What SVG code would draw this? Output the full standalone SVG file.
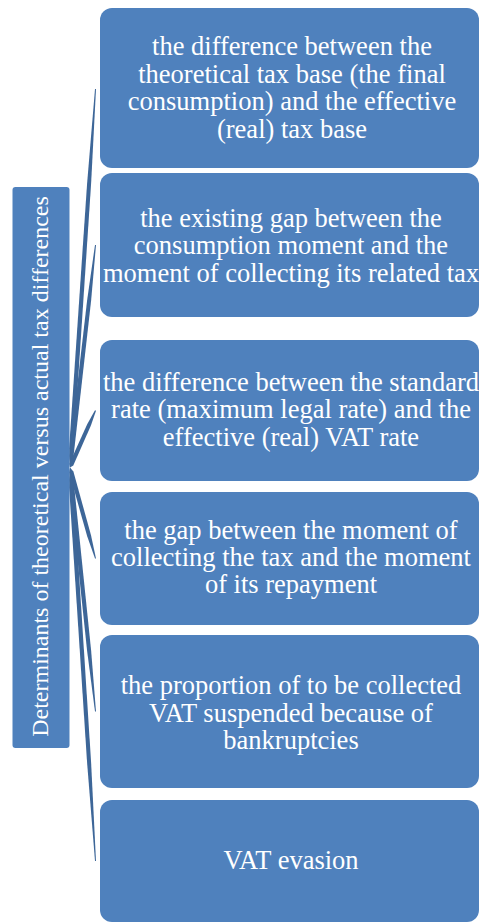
<svg xmlns="http://www.w3.org/2000/svg" width="479" height="923" viewBox="0 0 479 923">
<style>
.box{fill:#4F81BD;}
.t{font-family:'Liberation Serif','Times New Roman',serif;font-size:26.5px;fill:#FFFFFF;text-anchor:middle;}
.r{font-size:24px;}
.conn{fill:#3D6698;}
</style>
<rect width="479" height="923" fill="#FFFFFF"/>
<g id="connectors">
<polygon class="conn" points="70,467.5 73.5,448.7 91.1,183.7 96,89 95,89 87.1,183.5 69.1,448.5"/>
<polygon class="conn" points="70,467.5 73.5,456.6 91.1,300.8 96,245.1 95,244.9 87.1,300.4 69.1,456.1"/>
<polygon class="conn" points="70,467.5 73.3,465.5 90.9,425.6 96,410.7 95,410.3 87.3,423.9 69.3,463.8"/>
<polygon class="conn" points="70,467.5 73.4,471.5 91,535.2 96,558.4 95,558.6 87.2,536.3 69.2,472.6"/>
<polygon class="conn" points="70,467.5 73.5,479.5 91.1,650.3 96,711.45 95,711.55 87.1,650.7 69.1,479.9"/>
<polygon class="conn" points="70,467.5 73.5,487.1 91.1,762.5 96,861 95,861 87.1,762.7 69.1,487.3"/>
</g>
<g id="root">
<rect class="box" x="12.5" y="187" width="57" height="561" rx="3"/>
<text class="t r" transform="translate(48,466.5) rotate(-90)" x="0" y="0">Determinants of theoretical versus actual tax differences</text>
</g>
<g id="n1">
<rect class="box" x="100" y="8" width="379" height="160" rx="12"/>
<text class="t" x="292" y="55">the difference between the</text>
<text class="t" x="292" y="83">theoretical tax base (the final</text>
<text class="t" x="292" y="110">consumption) and the effective</text>
<text class="t" x="292" y="138">(real) tax base</text>
</g>
<g id="n2">
<rect class="box" x="100" y="173" width="379" height="144" rx="12"/>
<text class="t" x="291" y="227">the existing gap between the</text>
<text class="t" x="291" y="254">consumption moment and the</text>
<text class="t" x="291" y="282">moment of collecting its related tax</text>
</g>
<g id="n3">
<rect class="box" x="100" y="340" width="379" height="141" rx="12"/>
<text class="t" x="291" y="391">the difference between the standard</text>
<text class="t" x="291" y="418">rate (maximum legal rate) and the</text>
<text class="t" x="291" y="446">effective (real) VAT rate</text>
</g>
<g id="n4">
<rect class="box" x="100" y="492" width="379" height="133" rx="12"/>
<text class="t" x="291" y="539">the gap between the moment of</text>
<text class="t" x="291" y="566">collecting the tax and the moment</text>
<text class="t" x="291" y="593">of its repayment</text>
</g>
<g id="n5">
<rect class="box" x="100" y="635" width="379" height="153" rx="12"/>
<text class="t" x="291" y="694">the proportion of to be collected</text>
<text class="t" x="291" y="722">VAT suspended because of</text>
<text class="t" x="291" y="749">bankruptcies</text>
</g>
<g id="n6">
<rect class="box" x="100" y="800" width="379" height="122" rx="12"/>
<text class="t" x="291" y="869">VAT evasion</text>
</g>
</svg>
